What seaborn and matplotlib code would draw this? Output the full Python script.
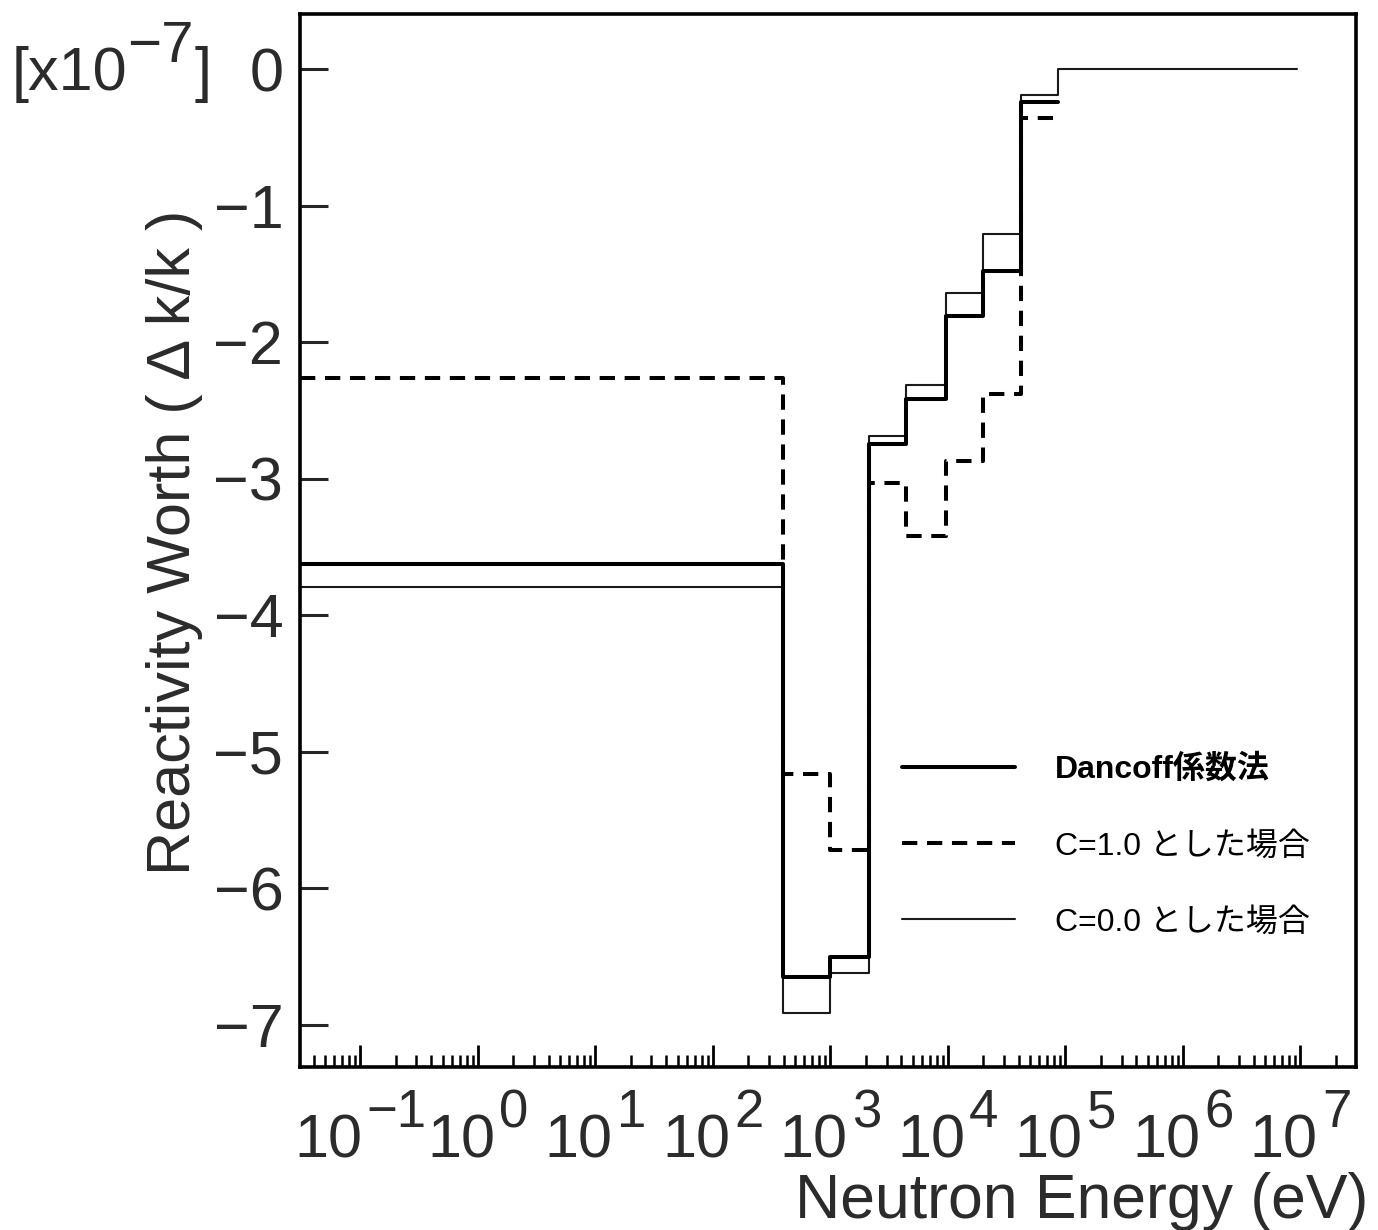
import numpy as np
import pandas as pd
import matplotlib
matplotlib.use("Agg")
import matplotlib.pyplot as plt
import matplotlib.transforms as mtransforms
from matplotlib.ticker import LogLocator, NullFormatter, FixedLocator
import seaborn as sns

# ---------------- data ----------------
edges_eV = [0.0306, 398, 1000, 2130, 4400, 9600, 19900, 41800, 87000, 9.3e6]
dancoff = [-3.62, -6.65, -6.50, -2.745, -2.415, -1.807, -1.478, -0.24]
c_one = [-2.264, -5.163, -5.72, -3.031, -3.419, -2.869, -2.379, -0.36]
c_zero = [-3.795, -6.911, -6.62, -2.686, -2.312, -1.636, -1.207, -0.188, 0.0]
series_labels = ["Dancoff係数法", "C=1.0 とした場合", "C=0.0 とした場合"]
x_exponents = [-1, 0, 1, 2, 3, 4, 5, 6, 7]
y_tick_values = [0, -1, -2, -3, -4, -5, -6, -7]
x_title = "Neutron Energy (eV)"
y_title = "Reactivity Worth ( Δ k/k )"
scale_text = ["[x10", "−7", "]"]

# ---------------- style ----------------
sns.set_style("ticks")
plt.rcParams["font.family"] = ["Liberation Sans", "Noto Sans CJK JP", "DejaVu Sans"]
plt.rcParams["axes.unicode_minus"] = True
TXT = "#2b2b2b"

W_PX, H_PX = 1378, 1230
fig = plt.figure(figsize=(W_PX / 100, H_PX / 100), dpi=100)
L, R, T, B = 300, 1356, 14, 1067.3
ax = fig.add_axes([L / W_PX, 1 - B / H_PX, (R - L) / W_PX, (B - T) / H_PX])
ax.set_xscale("log")


def step_frame(vals):
    n = len(vals)
    x = edges_eV[: n + 1]
    y = list(vals) + [vals[-1]]
    return pd.DataFrame({"E": x, "W": y})


lw_thick = 2.9
lw_thin = 1.5
sns.lineplot(data=step_frame(c_zero), x="E", y="W", ax=ax, drawstyle="steps-post",
             color="#1a1a1a", linewidth=lw_thin, errorbar=None, label=series_labels[2])
sns.lineplot(data=step_frame(c_one), x="E", y="W", ax=ax, drawstyle="steps-post",
             color="black", linewidth=lw_thick, linestyle=(0, (3.8, 2.4)),
             errorbar=None, label=series_labels[1])
sns.lineplot(data=step_frame(dancoff), x="E", y="W", ax=ax, drawstyle="steps-post",
             color="black", linewidth=lw_thick, errorbar=None, label=series_labels[0])

# ---------------- axes ----------------
ax.set_xlim(0.0306, 2.97e7)
ax.set_ylim(-7.31, 0.405)
for s in ax.spines.values():
    s.set_linewidth(2.6)
    s.set_color("black")

ax.xaxis.set_major_locator(FixedLocator([10.0 ** e for e in x_exponents]))
ax.xaxis.set_minor_locator(LogLocator(base=10, subs=np.arange(2, 10), numticks=100))
ax.xaxis.set_minor_formatter(NullFormatter())
ax.set_xticklabels([""] * len(x_exponents))
ax.tick_params(axis="x", which="major", direction="in", length=15.5, width=2.0,
               top=False, bottom=True, color="black")
ax.tick_params(axis="x", which="minor", direction="in", length=8.5, width=1.8,
               top=False, bottom=True, color="black")

ax.set_yticks(y_tick_values)
ax.set_yticklabels([str(v).replace("-", "−") for v in y_tick_values])
ax.tick_params(axis="y", which="major", direction="in", length=20, width=2.2,
               left=True, right=False, pad=12, labelsize=44, labelcolor=TXT)
ax.yaxis.set_minor_locator(FixedLocator([]))

# x tick labels: "10" with a raised exponent, centred on each tick
base_tf = mtransforms.blended_transform_factory(ax.transData, ax.transAxes)
fs_base, fs_exp = 44, 38
em_base = fs_base * 100 / 72
em_exp = fs_exp * 100 / 72
for e in x_exponents:
    s = str(e).replace("-", "−")
    w_base = 2 * 0.556 * em_base
    w_exp = sum((0.584 if ch == "−" else 0.556) * em_exp for ch in s)
    gap = 4
    total = w_base + gap + w_exp
    x0 = -total / 2
    t1 = base_tf + mtransforms.ScaledTranslation(x0 / 100, -90 / 100, fig.dpi_scale_trans)
    ax.text(10.0 ** e, 0, "10", transform=t1, ha="left", va="baseline",
            fontsize=fs_base, color=TXT, clip_on=False)
    t2 = base_tf + mtransforms.ScaledTranslation((x0 + w_base + gap) / 100, -60 / 100,
                                                 fig.dpi_scale_trans)
    ax.text(10.0 ** e, 0, s, transform=t2, ha="left", va="baseline",
            fontsize=fs_exp, color=TXT, clip_on=False)

# axis titles
ax.set_xlabel(x_title, fontsize=45, color=TXT)
ax.xaxis.label.set_ha("right")
ax.xaxis.label.set_va("baseline")
ax.xaxis.set_label_coords((1368 - L) / (R - L), -(1218 - B) / (B - T))

ax.set_ylabel(y_title, fontsize=44, color=TXT)
ax.yaxis.set_label_coords(-(L - 203) / (R - L), (B - 542) / (B - T))

# multiplier text at top-left
fig.text(12 / W_PX, 1 - 90 / H_PX, scale_text[0], fontsize=44, color=TXT,
         ha="left", va="baseline")
fig.text(127 / W_PX, 1 - 62 / H_PX, scale_text[1], fontsize=42, color=TXT,
         ha="left", va="baseline")
fig.text(195 / W_PX, 1 - 90 / H_PX, scale_text[2], fontsize=44, color=TXT,
         ha="left", va="baseline")

# legend
handles, labels = ax.get_legend_handles_labels()
order = [labels.index(l) for l in series_labels]
fs_leg = 23
leg = ax.legend([handles[i] for i in order], [labels[i] for i in order],
                loc="center left", bbox_to_anchor=((902 - L) / (R - L), (B - 846) / (B - T)),
                frameon=False, fontsize=fs_leg, handlelength=113 / (fs_leg * 100 / 72),
                handletextpad=40 / (fs_leg * 100 / 72),
                labelspacing=1.45, borderpad=0, borderaxespad=0)
for txt in leg.get_texts():
    txt.set_color("black")
leg.get_texts()[0].set_fontweight("bold")

fig.savefig("out.png", dpi=100)
